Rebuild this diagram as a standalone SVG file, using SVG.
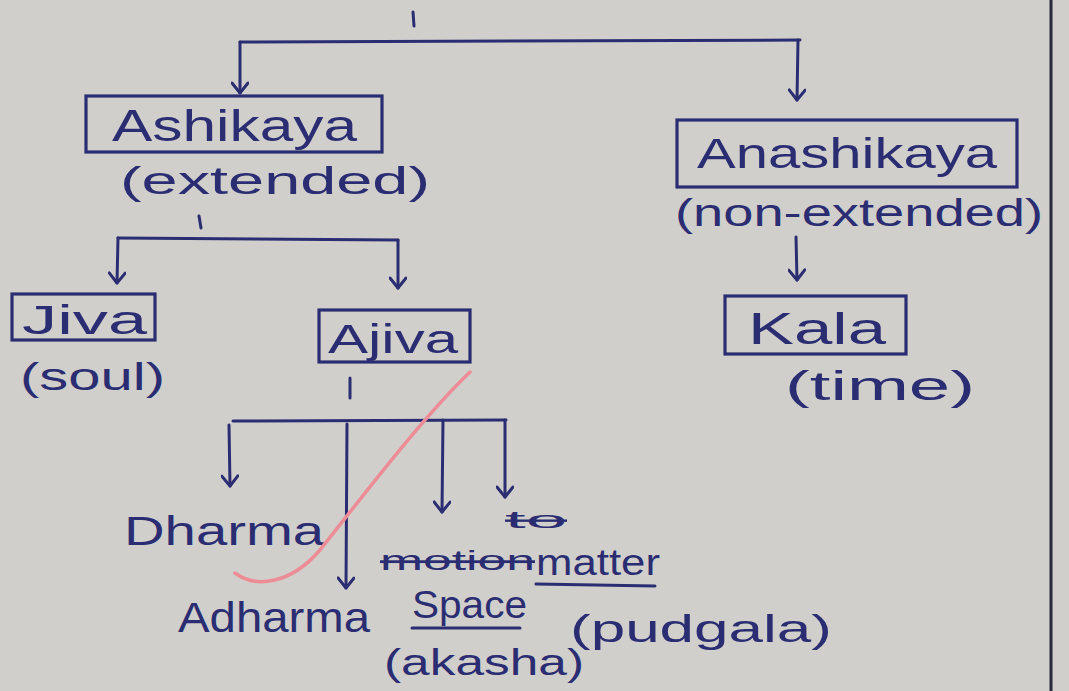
<svg xmlns="http://www.w3.org/2000/svg" width="1069" height="691" viewBox="0 0 1069 691">
<style>
.ink{stroke:#2b2d72;stroke-width:3;fill:none;stroke-linecap:round;stroke-linejoin:round}
.box{stroke:#2b2d72;stroke-width:3.2;fill:none}
.t{fill:#2b2d72;font-family:"Liberation Sans",Arial,sans-serif}
</style>
<defs>
<marker id="ah" viewBox="-1 -9 14 18" refX="11" refY="0" markerWidth="14" markerHeight="18" markerUnits="userSpaceOnUse" orient="auto">
<path d="M1,-8 L11,0 L1,8" fill="none" stroke="#2b2d72" stroke-width="3" stroke-linecap="round" stroke-linejoin="round"/>
</marker>
</defs>
<rect width="1069" height="691" fill="#d1cfcc"/>
<line x1="1051" y1="0" x2="1051" y2="691" stroke="#2a2a3a" stroke-width="3"/>

<g id="connectors">
<path class="ink" d="M413,12 L414,26"/>
<path class="ink" d="M240,42 L800,40"/>
<path class="ink" d="M240,42 L240,93" marker-end="url(#ah)"/>
<path class="ink" d="M798,40 L797,100" marker-end="url(#ah)"/>
<path class="ink" d="M199,216 L201,228"/>
<path class="ink" d="M118,238 L398,240"/>
<path class="ink" d="M118,238 L117,283" marker-end="url(#ah)"/>
<path class="ink" d="M398,240 L398,288" marker-end="url(#ah)"/>
<path class="ink" d="M796,237 L797,280" marker-end="url(#ah)"/>
<path class="ink" d="M350,378 L350,398"/>
<path class="ink" d="M233,421 L506,420"/>
<path class="ink" d="M229,425 L230,486" marker-end="url(#ah)"/>
<path class="ink" d="M347,424 L346,588" marker-end="url(#ah)"/>
<path class="ink" d="M443,420 L442,512" marker-end="url(#ah)"/>
<path class="ink" d="M505,420 L505,497" marker-end="url(#ah)"/>
</g>

<g id="ashikaya">
<rect class="box" x="86" y="96" width="296" height="56"/>
<text class="t" x="112" y="141" font-size="44" textLength="245" lengthAdjust="spacingAndGlyphs">Ashikaya</text>
<text class="t" x="120" y="194" font-size="38" textLength="310" lengthAdjust="spacingAndGlyphs">(extended)</text>
</g>

<g id="anashikaya">
<rect class="box" x="677" y="120" width="340" height="67"/>
<text class="t" x="697" y="168" font-size="42" textLength="300" lengthAdjust="spacingAndGlyphs">Anashikaya</text>
<text class="t" x="675" y="226" font-size="38" textLength="368" lengthAdjust="spacingAndGlyphs">(non-extended)</text>
</g>

<g id="jiva">
<rect class="box" x="12" y="294" width="143" height="46"/>
<text class="t" x="22" y="334" font-size="40" textLength="125" lengthAdjust="spacingAndGlyphs">Jiva</text>
<text class="t" x="20" y="390" font-size="38" textLength="145" lengthAdjust="spacingAndGlyphs">(soul)</text>
</g>

<g id="ajiva">
<rect class="box" x="319" y="310" width="151" height="52"/>
<text class="t" x="328" y="353" font-size="40" textLength="130" lengthAdjust="spacingAndGlyphs">Ajiva</text>
</g>

<g id="kala">
<rect class="box" x="725" y="296" width="181" height="58"/>
<text class="t" x="748" y="344" font-size="44" textLength="138" lengthAdjust="spacingAndGlyphs">Kala</text>
<text class="t" x="785" y="400" font-size="40" textLength="190" lengthAdjust="spacingAndGlyphs">(time)</text>
</g>

<g id="dharma">
<text class="t" x="124" y="545" font-size="40" textLength="200" lengthAdjust="spacingAndGlyphs">Dharma</text>
</g>

<g id="adharma">
<text class="t" x="178" y="632" font-size="42" textLength="192" lengthAdjust="spacingAndGlyphs">Adharma</text>
</g>

<g id="space">
<text class="t" x="380" y="570" font-size="28" textLength="155" lengthAdjust="spacingAndGlyphs" text-decoration="line-through">motion</text>
<text class="t" x="505" y="528" font-size="24" textLength="62" lengthAdjust="spacingAndGlyphs" text-decoration="line-through">to</text>
<text class="t" x="412" y="618" font-size="38" textLength="115" lengthAdjust="spacingAndGlyphs">Space</text>
<line class="ink" x1="412" y1="628" x2="520" y2="628"/>
<text class="t" x="384" y="675" font-size="36" textLength="200" lengthAdjust="spacingAndGlyphs">(akasha)</text>
</g>

<g id="matter">
<text class="t" x="536" y="575" font-size="36" textLength="124" lengthAdjust="spacingAndGlyphs">matter</text>
<line class="ink" x1="536" y1="584" x2="655" y2="586"/>
<text class="t" x="570" y="642" font-size="38" textLength="262" lengthAdjust="spacingAndGlyphs">(pudgala)</text>
</g>

<path d="M470,372 C420,420 360,500 320,550 C290,585 255,588 235,573" fill="none" stroke="#ec8c96" stroke-width="3.5" stroke-linecap="round"/>
</svg>
